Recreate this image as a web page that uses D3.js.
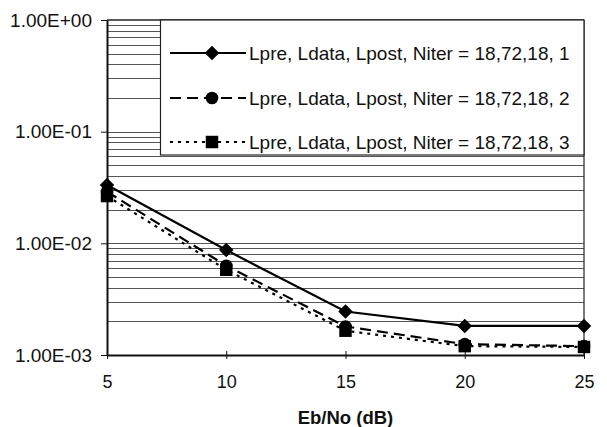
<!DOCTYPE html>
<html>
<head>
<meta charset="utf-8">
<script src="https://cdn.jsdelivr.net/npm/d3@7"></script>
<style>
  body { margin: 0; background: #fff; }
  text { font-family: Arial, "Liberation Sans", sans-serif; fill: #111; }
</style>
</head>
<body>
<script>
// chart values
var ebno = [5, 10, 15, 20, 25];
var ber1 = [0.0333, 0.0087, 0.00245, 0.00182, 0.00182];
var ber2 = [0.0290, 0.0063, 0.00180, 0.00125, 0.00120];
var ber3 = [0.0265, 0.0058, 0.00165, 0.00120, 0.00118];
var seriesNames = ["Lpre, Ldata, Lpost, Niter = 18,72,18, 1",
                   "Lpre, Ldata, Lpost, Niter = 18,72,18, 2",
                   "Lpre, Ldata, Lpost, Niter = 18,72,18, 3"];
var yTickLabels = ["1.00E-03", "1.00E-02", "1.00E-01", "1.00E+00"];
var xTitle = "Eb/No (dB)";

var totalWidth = 607, totalHeight = 427;
var margin = {"left": 107, "right": 23, "top": 20, "bottom": 72};

var svg = d3.select("body").append("svg")
            .attr("width", totalWidth)
            .attr("height", totalHeight);

var xScale = d3.scaleLinear()
               .domain([5, 25])
               .range([margin.left, totalWidth - margin.right]);
var yScale = d3.scaleLog()
               .domain([1e-3, 1])
               .range([totalHeight - margin.bottom, margin.top]);

// horizontal gridlines at every minor step
var gridVals = [];
[1e-3, 1e-2, 1e-1].forEach(function(dec) {
  for (let k = 1; k < 10; k++) {
    if (k == 1 && dec == 1e-3) continue;
    gridVals.push(dec * k);
  }
});
svg.append("g").selectAll("line")
   .data(gridVals)
   .enter().append("line")
   .attr("x1", xScale(5)).attr("x2", xScale(25))
   .attr("y1", function(d) { return Math.round(yScale(d)) + 0.5; })
   .attr("y2", function(d) { return Math.round(yScale(d)) + 0.5; })
   .attr("stroke", "#555")
   .attr("stroke-width", 1);

// plot frame (right and top)
svg.append("line")
   .attr("x1", xScale(25)).attr("x2", xScale(25))
   .attr("y1", yScale(1)).attr("y2", yScale(1e-3))
   .attr("stroke", "#222").attr("stroke-width", 1.2);
svg.append("line")
   .attr("x1", xScale(5)).attr("x2", xScale(25))
   .attr("y1", yScale(1)).attr("y2", yScale(1))
   .attr("stroke", "#222").attr("stroke-width", 1.5);

// axes
var xAxis = d3.axisBottom(xScale)
              .tickValues(ebno)
              .tickSizeInner(4)
              .tickSizeOuter(0)
              .tickPadding(20);
var gx = svg.append("g")
            .attr("transform", "translate(0," + yScale(1e-3) + ")")
            .call(xAxis);
gx.selectAll(".tick line").attr("y1", -4).attr("y2", 4).attr("stroke", "#111");
gx.select(".domain").attr("stroke", "#111").attr("stroke-width", 2);
gx.selectAll("text").style("font-size", "18px").attr("dy", "0.5em");

var yAxis = d3.axisLeft(yScale)
              .tickValues([1e-3, 1e-2, 1e-1, 1])
              .tickFormat(function(d, i) { return yTickLabels[i]; })
              .tickSizeInner(6)
              .tickSizeOuter(0)
              .tickPadding(9);
var gy = svg.append("g")
            .attr("transform", "translate(" + xScale(5) + ",0)")
            .call(yAxis);
gy.selectAll(".tick line").attr("stroke", "#111");
gy.select(".domain").attr("stroke", "#111").attr("stroke-width", 2);
gy.selectAll("text").style("font-size", "19px");

// x axis title
svg.append("text")
   .attr("x", (xScale(5) + xScale(25)) / 2)
   .attr("y", 424)
   .attr("text-anchor", "middle")
   .style("font-size", "18.5px")
   .style("font-weight", "bold")
   .text(xTitle);

// series
var allSeries = [
  {"vals": ber1, "dash": null, "shape": d3.symbolSquare, "size": 105, "rot": 45},
  {"vals": ber2, "dash": "11,6", "shape": d3.symbolCircle, "size": 125, "rot": 0},
  {"vals": ber3, "dash": "3,5", "shape": d3.symbolSquare, "size": 155, "rot": 0}
];

var line = d3.line()
             .x(function(d) { return xScale(d[0]); })
             .y(function(d) { return yScale(d[1]); });

allSeries.forEach(function(s) {
  var pts = ebno.map(function(x, i) { return [x, s.vals[i]]; });
  svg.append("path")
     .datum(pts)
     .attr("d", line)
     .attr("fill", "none")
     .attr("stroke", "#000")
     .attr("stroke-width", 2.2)
     .attr("stroke-dasharray", s.dash);
});
allSeries.forEach(function(s) {
  svg.append("g").selectAll("path")
     .data(ebno.map(function(x, i) { return [x, s.vals[i]]; }))
     .enter().append("path")
     .attr("transform", function(d) {
       return "translate(" + xScale(d[0]) + "," + yScale(d[1]) + ") rotate(" + s.rot + ")";
     })
     .attr("d", d3.symbol().type(s.shape).size(s.size))
     .attr("fill", "#000");
});

// legend
var legend = svg.append("g");
legend.append("rect")
      .attr("x", 160.5).attr("y", yScale(1))
      .attr("width", xScale(25) - 160.5).attr("height", 135)
      .attr("fill", "#fff")
      .attr("stroke", "#222")
      .attr("stroke-width", 1.2);
var rowY = [53, 98, 142];
allSeries.forEach(function(s, i) {
  legend.append("line")
        .attr("x1", 170).attr("x2", 246)
        .attr("y1", rowY[i]).attr("y2", rowY[i])
        .attr("stroke", "#000")
        .attr("stroke-width", 2.2)
        .attr("stroke-dasharray", s.dash);
  legend.append("path")
        .attr("transform", "translate(212," + rowY[i] + ") rotate(" + s.rot + ")")
        .attr("d", d3.symbol().type(s.shape).size(s.size))
        .attr("fill", "#000");
  legend.append("text")
        .attr("x", 249)
        .attr("y", rowY[i])
        .attr("dy", "0.35em")
        .style("font-size", "19px")
        .text(seriesNames[i]);
});
</script>
</body>
</html>
